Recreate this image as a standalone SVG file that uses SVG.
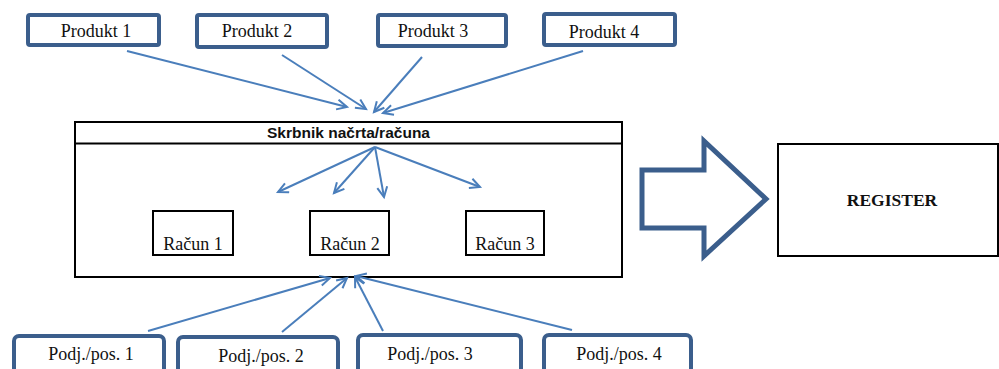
<svg xmlns="http://www.w3.org/2000/svg" width="999" height="369" viewBox="0 0 999 369">
<style>
.pbox{fill:#fff;stroke:#3b5e8c;stroke-width:4}
.box{fill:#fff;stroke:#000;stroke-width:2}
.t{font-family:"Liberation Serif","Times New Roman",serif;font-size:18px;fill:#111;text-anchor:middle}
.hd{font-family:"Liberation Sans",Arial,sans-serif;font-weight:bold;font-size:14.5px;fill:#111;text-anchor:middle}
.reg{font-family:"Liberation Serif","Times New Roman",serif;font-weight:bold;font-size:17.5px;fill:#111;text-anchor:middle}
.c{stroke:#4a7ebb;stroke-width:2;fill:none;marker-end:url(#ah)}
</style>
<defs>
<marker id="ah" markerUnits="userSpaceOnUse" markerWidth="14" markerHeight="14" refX="11" refY="6" orient="auto">
<path d="M1,1 L11,6 L1,11" fill="none" stroke="#4a7ebb" stroke-width="2"/>
</marker>
</defs>
<rect width="999" height="369" fill="#fff"/>

<g id="main">
<rect class="box" x="75" y="122" width="547" height="155"/>
<line x1="75" y1="143.5" x2="622" y2="143.5" stroke="#000" stroke-width="2"/>
<text class="hd" x="348.5" y="138" textLength="163" lengthAdjust="spacingAndGlyphs">Skrbnik načrta/računa</text>
</g>
<g id="racun1"><rect class="box" x="153" y="211" width="80" height="44"/><text class="t" x="193" y="250">Račun 1</text></g>
<g id="racun2"><rect class="box" x="310" y="211" width="79" height="44"/><text class="t" x="350" y="250">Račun 2</text></g>
<g id="racun3"><rect class="box" x="466" y="211" width="78" height="44"/><text class="t" x="505" y="250">Račun 3</text></g>

<g id="produkt1"><rect class="pbox" x="28" y="15" width="131" height="30" rx="2"/><text class="t" x="96" y="37">Produkt 1</text></g>
<g id="produkt2"><rect class="pbox" x="197" y="15" width="130" height="32" rx="2"/><text class="t" x="257" y="37">Produkt 2</text></g>
<g id="produkt3"><rect class="pbox" x="378" y="15" width="128" height="31" rx="2"/><text class="t" x="433" y="37">Produkt 3</text></g>
<g id="produkt4"><rect class="pbox" x="544" y="14" width="131" height="31" rx="2"/><text class="t" x="604" y="38">Produkt 4</text></g>

<g id="pos1"><rect class="pbox" x="14" y="336" width="150" height="40" rx="5"/><text class="t" x="91" y="360">Podj./pos. 1</text></g>
<g id="pos2"><rect class="pbox" x="178" y="337" width="160" height="40" rx="5"/><text class="t" x="261" y="362">Podj./pos. 2</text></g>
<g id="pos3"><rect class="pbox" x="358" y="335" width="163" height="40" rx="5"/><text class="t" x="430" y="360">Podj./pos. 3</text></g>
<g id="pos4"><rect class="pbox" x="544" y="335" width="147" height="40" rx="5"/><text class="t" x="619" y="360">Podj./pos. 4</text></g>

<g id="register"><rect class="box" x="778" y="144" width="220" height="112"/><text class="reg" x="892" y="206">REGISTER</text></g>

<g id="bigarrow"><polygon points="642,170 704,170 704,141 766,199 704,256 704,228 642,228" fill="#fff" stroke="#3b5e8c" stroke-width="5"/></g>

<g id="connectors">
<line class="c" x1="127" y1="51" x2="347" y2="107"/>
<line class="c" x1="282" y1="55" x2="366" y2="109"/>
<line class="c" x1="422" y1="57" x2="374" y2="112"/>
<line class="c" x1="583" y1="51" x2="383" y2="113"/>
<line class="c" x1="375" y1="147" x2="278" y2="192"/>
<line class="c" x1="375" y1="147" x2="334" y2="193"/>
<line class="c" x1="375" y1="147" x2="384" y2="197"/>
<line class="c" x1="375" y1="147" x2="480" y2="187"/>
<line class="c" x1="148" y1="331" x2="330" y2="278"/>
<line class="c" x1="282" y1="332" x2="347" y2="278"/>
<line class="c" x1="383" y1="331" x2="355" y2="277"/>
<line class="c" x1="572" y1="330" x2="356" y2="276"/>
</g>
</svg>
